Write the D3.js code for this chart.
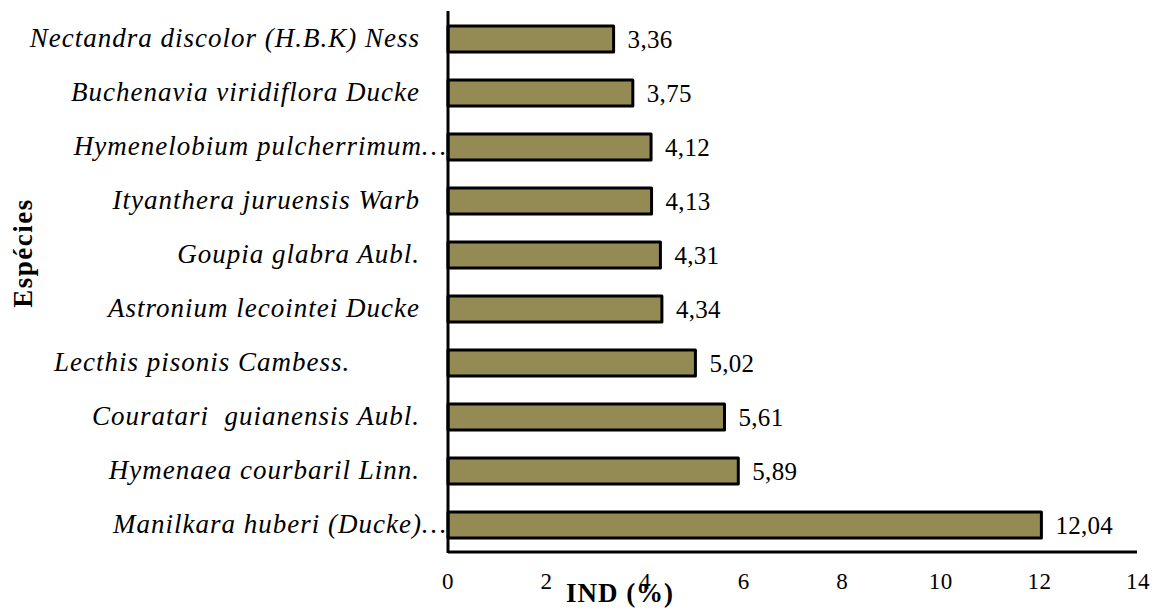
<!DOCTYPE html>
<html>
<head>
<meta charset="utf-8">
<script src="https://cdn.jsdelivr.net/npm/d3@7"></script>
<style>
  html, body { margin: 0; padding: 0; background: #fff; }
  svg { display: block; }
  text { font-family: "Liberation Serif", "Times New Roman", serif; fill: #000; }
</style>
</head>
<body>
<svg id="chart" width="1160" height="610"></svg>
<script>
// Data (top to bottom as drawn)
const categories = [
  "Nectandra discolor (H.B.K) Ness",
  "Buchenavia viridiflora Ducke",
  "Hymenelobium pulcherrimum…",
  "Ityanthera juruensis Warb",
  "Goupia glabra Aubl.",
  "Astronium lecointei Ducke",
  "Lecthis pisonis Cambess.         ",
  "Couratari  guianensis Aubl.",
  "Hymenaea courbaril Linn.",
  "Manilkara huberi (Ducke)…"
];
const values = [3.36, 3.75, 4.12, 4.13, 4.31, 4.34, 5.02, 5.61, 5.89, 12.04];
const valueLabels = ["3,36", "3,75", "4,12", "4,13", "4,31", "4,34", "5,02", "5,61", "5,89", "12,04"];
const xTicks = [0, 2, 4, 6, 8, 10, 12, 14];
const xTitle = "IND (%)";
const yTitle = "Espécies";

const svg = d3.select("#chart");
const mLeft = 448, mRight = 1138, mTop = 12, mBottom = 552;

const x = d3.scaleLinear().domain([0, 14]).range([mLeft, mRight]);
const y = d3.scaleBand().domain(categories).range([mTop, mBottom]).paddingInner(0.52).paddingOuter(0.26);

// Bars
svg.append("g").selectAll("rect").data(values).join("rect")
  .attr("x", x(0))
  .attr("y", (d, i) => y(categories[i]))
  .attr("width", d => x(d) - x(0))
  .attr("height", y.bandwidth())
  .attr("fill", "#948a54")
  .attr("stroke", "#000")
  .attr("stroke-width", 3)
  .attr("stroke-linejoin", "round");

// Value labels
svg.append("g").selectAll("text").data(values).join("text")
  .attr("x", d => x(d) + 14)
  .attr("y", (d, i) => y(categories[i]) + y.bandwidth() / 2)
  .attr("dy", "0.35em")
  .style("font-size", "25px")
  .style("letter-spacing", "0.3px")
  .text((d, i) => valueLabels[i]);

// Category labels
svg.append("g").selectAll("text").data(categories).join("text")
  .attr("x", d => d.endsWith("…") ? x(0) - 1 : x(0) - 28)
  .attr("y", d => y(d) + y.bandwidth() / 2)
  .attr("dy", "0.28em")
  .attr("text-anchor", "end")
  .style("font-size", "27px")
  .style("letter-spacing", "1px")
  .style("font-style", "italic")
  .style("white-space", "pre")
  .text(d => d);

// X axis line (no tick marks)
const xAxis = d3.axisBottom(x).tickValues(xTicks).tickSize(0).tickFormat("");
const gx = svg.append("g").attr("transform", `translate(0,${mBottom})`).call(xAxis);
gx.select(".domain").attr("stroke", "#000").attr("stroke-width", 3).attr("d", `M${mLeft},0H${mRight - 1}`);

// X tick labels
svg.append("g").selectAll("text").data(xTicks).join("text")
  .attr("x", d => x(d))
  .attr("y", mBottom + 37)
  .attr("text-anchor", "middle")
  .style("font-size", "23px")
  .style("letter-spacing", "0.5px")
  .text(d => d3.format("d")(d));

// Y axis line
const gy = svg.append("g").attr("transform", `translate(${mLeft},0)`)
  .call(d3.axisLeft(y).tickSize(0).tickFormat(""));
gy.select(".domain").attr("stroke", "#000").attr("stroke-width", 3).attr("d", `M0,${mTop - 1}V${mBottom + 1}`);

// Axis titles
svg.append("text")
  .attr("x", 620).attr("y", 602)
  .attr("text-anchor", "middle")
  .style("font-size", "27px").style("font-weight", "bold")
  .style("letter-spacing", "1px")
  .text(xTitle);

svg.append("text")
  .attr("transform", "translate(32,253) rotate(-90)")
  .attr("text-anchor", "middle")
  .style("font-size", "27px").style("font-weight", "bold")
  .style("letter-spacing", "1.5px")
  .text(yTitle);
</script>
</body>
</html>
